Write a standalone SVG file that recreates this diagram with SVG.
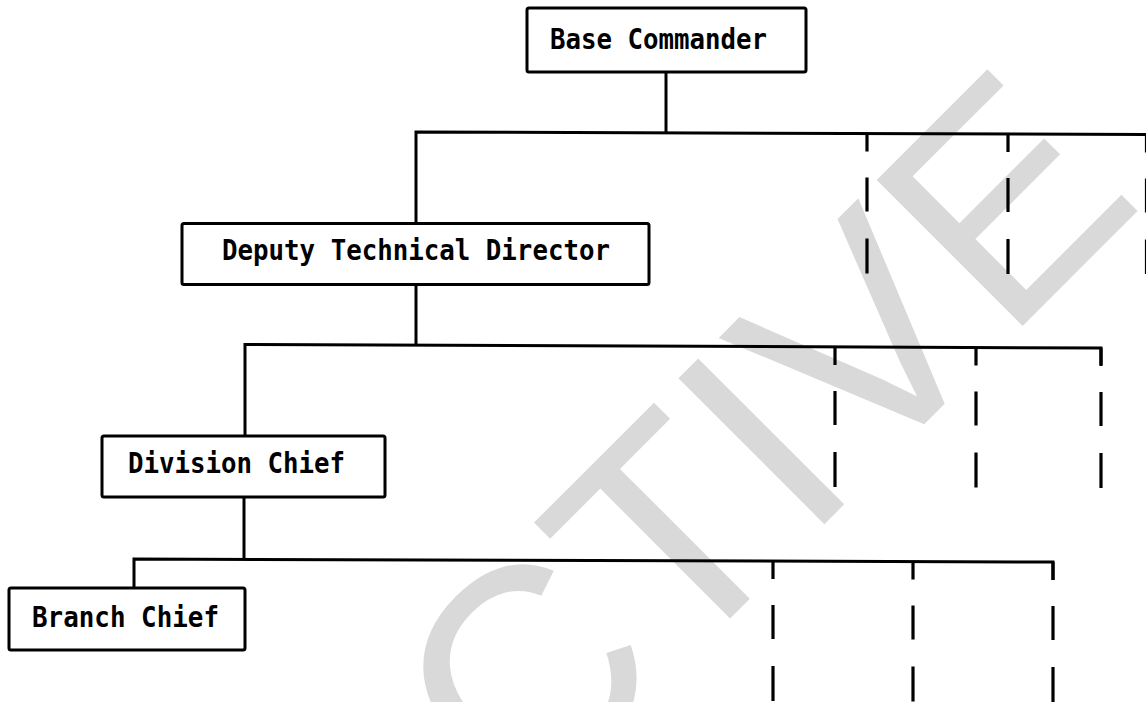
<svg xmlns="http://www.w3.org/2000/svg" width="1146" height="702" viewBox="0 0 1146 702">
  <style>
    .box { fill: #ffffff; stroke: #000000; stroke-width: 3; }
    .label { font-family: "DejaVu Sans Mono", "Liberation Mono", monospace; font-weight: bold; font-size: 29px; fill: #000000; }
    .wire { fill: none; stroke: #000000; stroke-width: 3; stroke-linejoin: miter; }
    .dash { fill: none; stroke: #000000; stroke-width: 3.2; stroke-dasharray: 18 26 34 27 35 40; }
    .stamp { font-family: "Liberation Sans", Arial, sans-serif; font-size: 300px; fill: #d9d9d9; }
  </style>

  <rect x="0" y="0" width="1146" height="702" fill="#ffffff"/>

  <!-- background stamp -->
  <text class="stamp" transform="translate(522,826.5) rotate(-45)">CTIVE</text>

  <!-- connectors -->
  <g id="connectors">
    <path class="wire" d="M666 72 V133"/>
    <path class="wire" d="M416 223.5 V132 L1146 134.5"/>
    <path class="dash" d="M867 133.5 V274"/>
    <path class="dash" d="M1008 134 V274"/>
    <path class="dash" d="M1146.5 134.5 V274"/>

    <path class="wire" d="M416 284.5 V345"/>
    <path class="wire" d="M245 436 V344.5 L1101 348 V365"/>
    <path class="dash" d="M835 347 V488"/>
    <path class="dash" d="M976 347.5 V488"/>
    <path class="dash" d="M1101 348 V488"/>

    <path class="wire" d="M244 497 V559.5"/>
    <path class="wire" d="M134 588 V559 L1053 562 V580"/>
    <path class="dash" d="M773 561 V702"/>
    <path class="dash" d="M913 561.5 V702"/>
    <path class="dash" d="M1053 562 V702"/>
  </g>

  <!-- nodes -->
  <g id="base-commander">
    <rect class="box" x="527" y="8" width="279" height="64" rx="2"/>
    <text class="label" x="550" y="49" textLength="217" lengthAdjust="spacingAndGlyphs">Base Commander</text>
  </g>

  <g id="deputy-technical-director">
    <rect class="box" x="182" y="223.5" width="467" height="61" rx="2"/>
    <text class="label" x="222" y="260" textLength="388" lengthAdjust="spacingAndGlyphs">Deputy Technical Director</text>
  </g>

  <g id="division-chief">
    <rect class="box" x="102" y="436" width="283" height="61" rx="2"/>
    <text class="label" x="128" y="473" textLength="217" lengthAdjust="spacingAndGlyphs">Division Chief</text>
  </g>

  <g id="branch-chief">
    <rect class="box" x="9" y="588" width="236" height="62" rx="2"/>
    <text class="label" x="32" y="627" textLength="187" lengthAdjust="spacingAndGlyphs">Branch Chief</text>
  </g>
</svg>
